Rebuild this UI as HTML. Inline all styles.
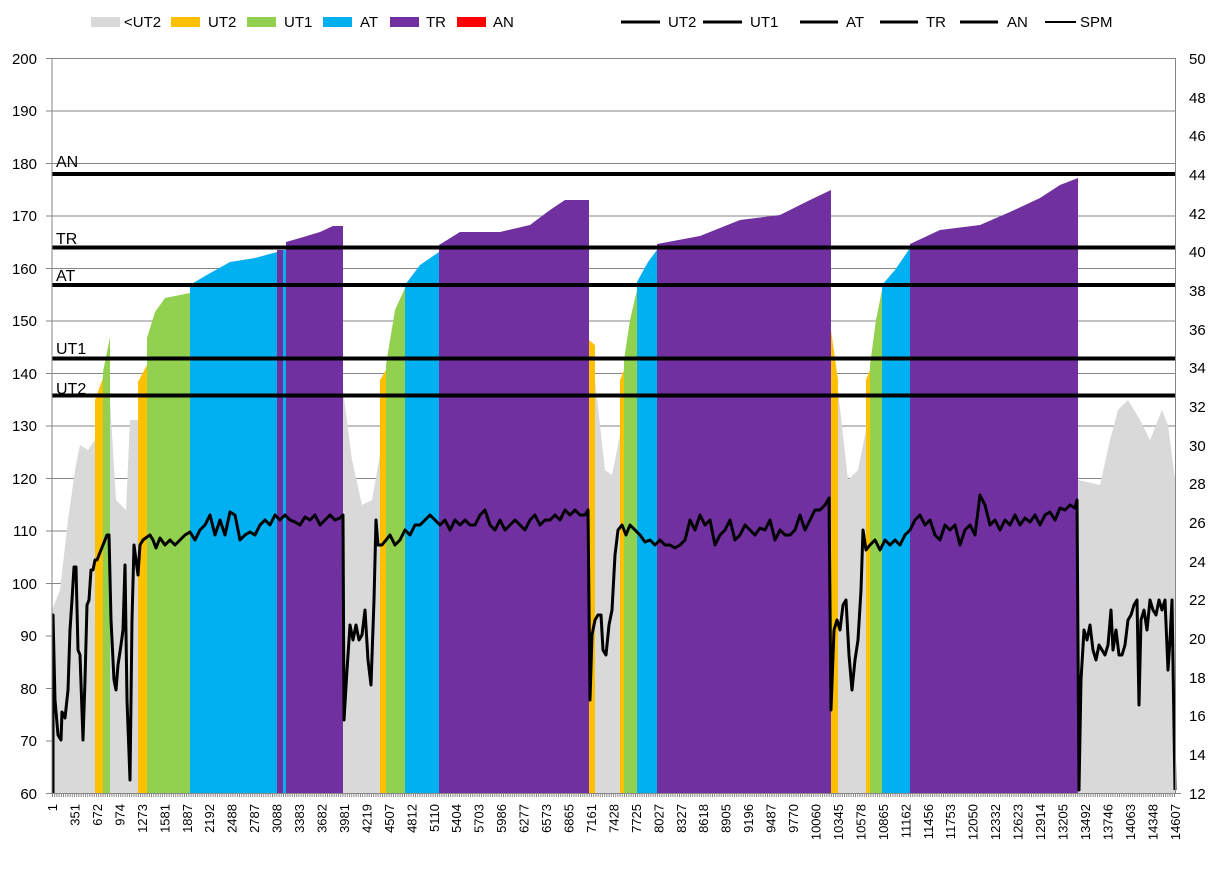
<!DOCTYPE html>
<html><head><meta charset="utf-8"><style>
body{margin:0;background:#fff;}
svg{display:block;font-family:"Liberation Sans",sans-serif;}
</style></head><body>
<svg width="1221" height="877" viewBox="0 0 1221 877">
<rect width="1221" height="877" fill="#fff"/>
<!-- legend -->
<g font-size="15" fill="#000">
<rect x="91" y="17" width="29" height="10" fill="#d9d9d9"/><text x="124" y="27">&lt;UT2</text>
<rect x="171" y="17" width="29" height="10" fill="#ffc000"/><text x="208" y="27">UT2</text>
<rect x="247" y="17" width="29" height="10" fill="#92d050"/><text x="284" y="27">UT1</text>
<rect x="323" y="17" width="29" height="10" fill="#00b0f0"/><text x="360" y="27">AT</text>
<rect x="390" y="17" width="29" height="10" fill="#7030a0"/><text x="426" y="27">TR</text>
<rect x="457" y="17" width="29" height="10" fill="#ff0000"/><text x="493" y="27">AN</text>
<g stroke="#000" stroke-width="3">
<line x1="621" y1="22" x2="660" y2="22"/><line x1="703" y1="22" x2="742" y2="22"/>
<line x1="800" y1="22" x2="838" y2="22"/><line x1="880" y1="22" x2="918" y2="22"/>
<line x1="960" y1="22" x2="998" y2="22"/></g>
<line x1="1045" y1="22" x2="1076" y2="22" stroke="#000" stroke-width="2"/>
<text x="668" y="27">UT2</text><text x="750" y="27">UT1</text><text x="846" y="27">AT</text>
<text x="926" y="27">TR</text><text x="1007" y="27">AN</text><text x="1080" y="27">SPM</text>
</g>
<!-- gridlines -->
<g stroke="#868686" stroke-width="1">
<line x1="46" y1="58.5" x2="1175" y2="58.5"/><line x1="46" y1="111" x2="1175" y2="111"/>
<line x1="46" y1="163.5" x2="1175" y2="163.5"/><line x1="46" y1="216" x2="1175" y2="216"/>
<line x1="46" y1="268.5" x2="1175" y2="268.5"/><line x1="46" y1="321" x2="1175" y2="321"/>
<line x1="46" y1="373.5" x2="1175" y2="373.5"/><line x1="46" y1="426" x2="1175" y2="426"/>
<line x1="46" y1="478.5" x2="1175" y2="478.5"/><line x1="46" y1="531" x2="1175" y2="531"/>
<line x1="46" y1="583.5" x2="1175" y2="583.5"/><line x1="46" y1="636" x2="1175" y2="636"/>
<line x1="46" y1="688.5" x2="1175" y2="688.5"/><line x1="46" y1="741" x2="1175" y2="741"/>
</g>
<!-- areas -->
<g>
<polygon fill="#d9d9d9" points="52,793 52,610 60,590 68,520 75,470 80,445 88,450 95,440 95,793"/>
<polygon fill="#ffc000" points="95,793 95,400 103,378 103,793"/>
<polygon fill="#92d050" points="103,793 103,372 110,337 110,793"/>
<polygon fill="#d9d9d9" points="110,793 110,400 116,500 126,510 130,420 138,420 138,793"/>
<polygon fill="#ffc000" points="138,793 138,382 147,365 147,793"/>
<polygon fill="#92d050" points="147,793 147,338 155,312 165,298 190,293 190,793"/>
<polygon fill="#00b0f0" points="190,793 190,285 205,276 230,262 255,258 277,252 277,793"/>
<polygon fill="#7030a0" points="277,793 277,250 283,250 283,793"/>
<polygon fill="#00b0f0" points="283,793 283,250 286,250 286,793"/>
<polygon fill="#7030a0" points="286,793 286,242 300,238 320,232 333,226 343,226 343,793"/>
<polygon fill="#d9d9d9" points="343,793 343,390 352,460 362,505 372,500 380,455 380,793"/>
<polygon fill="#ffc000" points="380,793 380,380 386,370 386,793"/>
<polygon fill="#92d050" points="386,793 386,365 395,310 405,288 405,793"/>
<polygon fill="#00b0f0" points="405,793 405,285 420,265 439,252 439,793"/>
<polygon fill="#7030a0" points="439,793 439,245 460,232 500,232 530,225 550,210 565,200 589,200 589,793"/>
<polygon fill="#ffc000" points="589,793 589,340 595,345 595,793"/>
<polygon fill="#d9d9d9" points="595,793 595,380 605,470 612,475 620,435 620,793"/>
<polygon fill="#ffc000" points="620,793 620,380 624,370 624,793"/>
<polygon fill="#92d050" points="624,793 624,360 630,320 637,290 637,793"/>
<polygon fill="#00b0f0" points="637,793 637,282 648,262 657,250 657,793"/>
<polygon fill="#7030a0" points="657,793 657,244 700,236 740,220 780,215 810,200 831,190 831,793"/>
<polygon fill="#ffc000" points="831,793 831,330 838,380 838,793"/>
<polygon fill="#d9d9d9" points="838,793 838,390 848,480 858,470 866,430 866,793"/>
<polygon fill="#ffc000" points="866,793 866,380 870,370 870,793"/>
<polygon fill="#92d050" points="870,793 870,365 876,320 882,290 882,793"/>
<polygon fill="#00b0f0" points="882,793 882,285 895,270 910,248 910,793"/>
<polygon fill="#7030a0" points="910,793 910,244 940,230 980,225 1010,212 1040,198 1060,185 1078,178 1078,793"/>
<polygon fill="#d9d9d9" points="1078,793 1078,480 1100,485 1110,440 1118,410 1128,400 1140,420 1150,440 1162,410 1168,425 1175,480 1175,793"/>
</g>
<!-- threshold lines -->
<g stroke="#000" stroke-width="4">
<line x1="52" y1="174" x2="1175" y2="174"/><line x1="52" y1="247.5" x2="1175" y2="247.5"/>
<line x1="52" y1="285" x2="1175" y2="285"/><line x1="52" y1="358.5" x2="1175" y2="358.5"/>
<line x1="52" y1="395.5" x2="1175" y2="395.5"/>
</g>
<g font-size="16" fill="#000">
<text x="56" y="167">AN</text><text x="56" y="244">TR</text><text x="56" y="281">AT</text>
<text x="56" y="354">UT1</text><text x="56" y="394">UT2</text>
</g>
<!-- SPM line -->
<polyline fill="none" stroke="#000" stroke-width="3" stroke-linejoin="round" points="
53,793 53,615 55,700 58,735 61,740 62,712 65,718 68,690 70,630 72,600 74,567 76,567 78,650 80,655 83,740 85,680 87,605 89,600 91,570 93,570 95,560 97,560 99,555 101,550 103,545 105,540 107,535 109,535 111,620 114,680 116,690 118,665 121,645 123,630 125,565 127,700 130,780 132,620 134,545 136,560 138,575 140,545 143,540 147,537 150,535 153,540 156,548 160,538 165,545 170,540 175,545 180,540 185,535 190,532 195,540 200,530 205,525 210,515 215,535 220,520 225,535 230,512 235,515 240,540 245,535 250,532 255,535 260,525 265,520 270,525 275,515 280,520 285,515 290,520 295,522 300,525 305,517 310,520 315,515 320,525 325,520 330,515 335,520 340,518 343,515 344,720 347,670 350,625 353,640 356,625 359,640 362,635 365,610 368,660 371,685 374,600 376,520 378,545 382,545 386,540 390,535 395,545 400,540 405,530 410,535 415,525 420,525 425,520 430,515 435,520 440,525 445,520 450,530 455,520 460,525 465,520 470,525 475,525 480,515 485,510 490,525 495,530 500,520 505,530 510,525 515,520 520,525 525,530 530,520 535,515 540,525 545,520 550,520 555,515 560,520 565,510 570,515 575,510 580,515 585,515 588,510 590,700 592,635 595,620 598,615 601,615 603,650 606,655 609,625 612,610 615,555 618,530 622,525 626,535 630,525 635,530 640,535 645,542 650,540 655,545 660,540 665,545 670,545 675,548 680,545 685,540 690,520 695,530 700,515 705,525 710,520 715,545 720,535 725,530 730,520 735,540 740,535 745,525 750,530 755,535 760,528 765,530 770,520 775,540 780,530 785,535 790,535 795,530 800,515 805,530 810,520 815,510 820,510 825,505 829,498 831,710 834,630 837,620 840,630 843,605 846,600 849,655 852,690 855,660 858,640 861,590 863,530 866,550 870,545 875,540 880,550 885,540 890,545 895,540 900,545 905,535 910,530 915,520 920,515 925,525 930,520 935,535 940,540 945,525 950,530 955,525 960,545 965,530 970,525 975,535 980,495 985,505 990,525 995,520 1000,530 1005,520 1010,525 1015,515 1020,525 1025,518 1030,522 1035,515 1040,525 1045,515 1050,512 1055,520 1060,508 1065,510 1070,505 1075,508 1077,500 1079,790 1081,680 1084,630 1087,640 1090,625 1093,650 1096,660 1099,645 1102,650 1105,655 1108,645 1111,610 1113,650 1116,630 1119,655 1122,655 1125,645 1128,620 1131,615 1134,605 1137,600 1139,705 1141,620 1144,610 1147,630 1150,600 1153,610 1156,615 1159,600 1162,610 1165,600 1168,670 1170,640 1172,600 1175,790"/>
<!-- axes -->
<g stroke="#868686" stroke-width="1">
<line x1="52" y1="58" x2="52" y2="794"/><line x1="1175.5" y1="58" x2="1175.5" y2="794"/>
<line x1="46" y1="793.5" x2="1181" y2="793.5"/>
</g>
<line x1="52" y1="795" x2="1175" y2="795" stroke="#888" stroke-width="4" stroke-dasharray="1,1.2"/>
<!-- left labels -->
<g font-size="15" fill="#000" text-anchor="end">
<text x="37" y="64">200</text><text x="37" y="116">190</text><text x="37" y="169">180</text>
<text x="37" y="221">170</text><text x="37" y="274">160</text><text x="37" y="326">150</text>
<text x="37" y="379">140</text><text x="37" y="431">130</text><text x="37" y="484">120</text>
<text x="37" y="536">110</text><text x="37" y="589">100</text><text x="37" y="641">90</text>
<text x="37" y="694">80</text><text x="37" y="746">70</text><text x="37" y="799">60</text>
</g>
<g font-size="15" fill="#000" text-anchor="start">
<text x="1189" y="64">50</text><text x="1189" y="103">48</text><text x="1189" y="141">46</text>
<text x="1189" y="180">44</text><text x="1189" y="219">42</text><text x="1189" y="257">40</text>
<text x="1189" y="296">38</text><text x="1189" y="335">36</text><text x="1189" y="373">34</text>
<text x="1189" y="412">32</text><text x="1189" y="451">30</text><text x="1189" y="489">28</text>
<text x="1189" y="528">26</text><text x="1189" y="567">24</text><text x="1189" y="605">22</text>
<text x="1189" y="644">20</text><text x="1189" y="683">18</text><text x="1189" y="721">16</text>
<text x="1189" y="760">14</text><text x="1189" y="799">12</text>
</g>
<!-- x labels -->
<g font-size="13" fill="#000" text-anchor="end">
<text transform="translate(57,804) rotate(-90)">1</text>
<text transform="translate(79.5,804) rotate(-90)">351</text>
<text transform="translate(102,804) rotate(-90)">672</text>
<text transform="translate(124.4,804) rotate(-90)">974</text>
<text transform="translate(146.9,804) rotate(-90)">1273</text>
<text transform="translate(169.3,804) rotate(-90)">1581</text>
<text transform="translate(191.8,804) rotate(-90)">1887</text>
<text transform="translate(214.2,804) rotate(-90)">2192</text>
<text transform="translate(236.7,804) rotate(-90)">2488</text>
<text transform="translate(259.1,804) rotate(-90)">2787</text>
<text transform="translate(281.6,804) rotate(-90)">3088</text>
<text transform="translate(304,804) rotate(-90)">3383</text>
<text transform="translate(326.5,804) rotate(-90)">3682</text>
<text transform="translate(349,804) rotate(-90)">3981</text>
<text transform="translate(371.4,804) rotate(-90)">4219</text>
<text transform="translate(393.9,804) rotate(-90)">4507</text>
<text transform="translate(416.3,804) rotate(-90)">4812</text>
<text transform="translate(438.8,804) rotate(-90)">5110</text>
<text transform="translate(461.2,804) rotate(-90)">5404</text>
<text transform="translate(483.7,804) rotate(-90)">5703</text>
<text transform="translate(506.1,804) rotate(-90)">5986</text>
<text transform="translate(528.6,804) rotate(-90)">6277</text>
<text transform="translate(551,804) rotate(-90)">6573</text>
<text transform="translate(573.5,804) rotate(-90)">6865</text>
<text transform="translate(596,804) rotate(-90)">7161</text>
<text transform="translate(618.4,804) rotate(-90)">7428</text>
<text transform="translate(640.9,804) rotate(-90)">7725</text>
<text transform="translate(663.3,804) rotate(-90)">8027</text>
<text transform="translate(685.8,804) rotate(-90)">8327</text>
<text transform="translate(708.2,804) rotate(-90)">8618</text>
<text transform="translate(730.7,804) rotate(-90)">8905</text>
<text transform="translate(753.1,804) rotate(-90)">9196</text>
<text transform="translate(775.6,804) rotate(-90)">9487</text>
<text transform="translate(798,804) rotate(-90)">9770</text>
<text transform="translate(820.5,804) rotate(-90)">10060</text>
<text transform="translate(843,804) rotate(-90)">10345</text>
<text transform="translate(865.4,804) rotate(-90)">10578</text>
<text transform="translate(887.9,804) rotate(-90)">10865</text>
<text transform="translate(910.3,804) rotate(-90)">11162</text>
<text transform="translate(932.8,804) rotate(-90)">11456</text>
<text transform="translate(955.2,804) rotate(-90)">11753</text>
<text transform="translate(977.7,804) rotate(-90)">12050</text>
<text transform="translate(1000.1,804) rotate(-90)">12332</text>
<text transform="translate(1022.6,804) rotate(-90)">12623</text>
<text transform="translate(1045,804) rotate(-90)">12914</text>
<text transform="translate(1067.5,804) rotate(-90)">13205</text>
<text transform="translate(1090,804) rotate(-90)">13492</text>
<text transform="translate(1112.4,804) rotate(-90)">13746</text>
<text transform="translate(1134.9,804) rotate(-90)">14063</text>
<text transform="translate(1157.3,804) rotate(-90)">14348</text>
<text transform="translate(1179.8,804) rotate(-90)">14607</text>
</g>
</svg>
</body></html>
